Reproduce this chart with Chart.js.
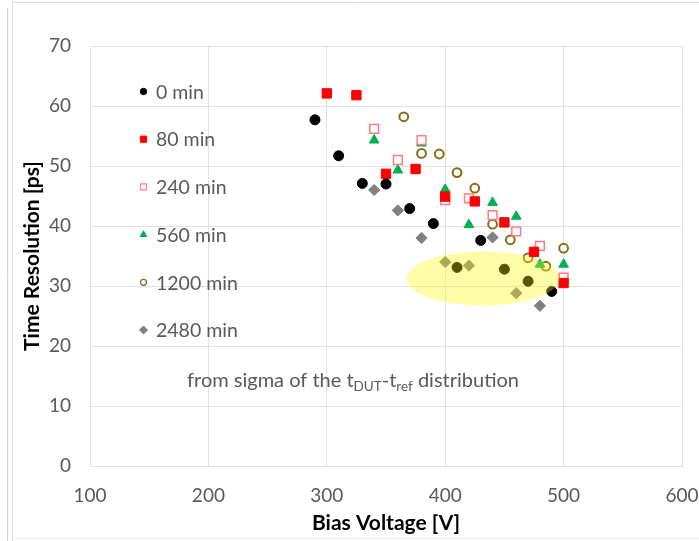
<!DOCTYPE html>
<html>
<head>
<meta charset="utf-8">
<script src="https://cdn.jsdelivr.net/npm/chart.js@4/dist/chart.umd.min.js"></script>
<style>
  html, body { margin: 0; padding: 0; background: #ffffff; }
  #wrap { width: 699px; height: 541px; position: relative; }
</style>
</head>
<body>
<div id="wrap"><canvas id="c" width="699" height="541"></canvas></div>
<script>
// Bias voltage [V] and time resolution [ps] for each irradiation/annealing time
const v0    = [290, 310, 330, 350, 370, 390, 410, 430, 450, 470, 490];
const t0    = [57.7, 51.7, 47.1, 47.0, 42.9, 40.4, 33.1, 37.6, 32.8, 30.8, 29.1];

const v80   = [300, 325, 350, 375, 400, 425, 450, 475, 500];
const t80   = [62.1, 61.8, 48.7, 49.5, 44.9, 44.1, 40.6, 35.7, 30.5];

const v240  = [340, 360, 380, 400, 420, 440, 460, 480, 500];
const t240  = [56.2, 51.0, 54.3, 44.3, 44.6, 41.8, 39.1, 36.7, 31.4];

const v560  = [340, 360, 380, 400, 420, 440, 460, 480, 500];
const t560  = [54.3, 49.3, 53.8, 46.1, 40.2, 43.9, 41.6, 33.6, 33.6];

const v1200 = [365, 380, 395, 410, 425, 440, 455, 470, 485, 500];
const t1200 = [58.2, 52.1, 52.0, 48.9, 46.3, 40.3, 37.7, 34.7, 33.3, 36.3];

const v2480 = [340, 360, 380, 400, 420, 440, 460, 480];
const t2480 = [46.0, 42.6, 38.0, 34.0, 33.4, 38.1, 28.8, 26.7];

const seriesNames = ['0 min', '80 min', '240 min', '560 min', '1200 min', '2480 min'];
const xTicks = [100, 200, 300, 400, 500, 600];
const yTicks = [0, 10, 20, 30, 40, 50, 60, 70];

// Highlighted region (centre and half-axes in data units)
const highlightCentre = { v: 432, t: 31.25 };
const highlightHalf   = { v: 64.5, t: 4.5 };

const FONT = 'Lato, "Open Sans", "DejaVu Sans", sans-serif';
const GRID = '#e2e2e2';
const LABEL = '#595959';

function pts(xs, ys) { return xs.map((x, i) => ({ x: x, y: ys[i] })); }

const styles = [
  { pointStyle: 'circle',   radius: 5,   bg: '#000000', border: '#000000', bw: 1,   lr: 3.2 },
  { pointStyle: 'rect',     radius: 6.6, bg: '#ff0000', border: '#ff0000', bw: 1,   lr: 4.4 },
  { pointStyle: 'rect',     radius: 6.2, bg: '#ffffff', border: '#ff7c80', bw: 1.5, lr: 4.2 },
  { pointStyle: 'triangle', radius: 5.6, bg: '#00b050', border: '#00b050', bw: 1,   lr: 3.8 },
  { pointStyle: 'circle',   radius: 4.4, bg: '#ffffff', border: '#8b6914', bw: 2,   lr: 3.0 },
  { pointStyle: 'rectRot',  radius: 5.6, bg: '#808080', border: '#808080', bw: 1,   lr: 4.0 }
];
const seriesData = [pts(v0, t0), pts(v80, t80), pts(v240, t240), pts(v560, t560), pts(v1200, t1200), pts(v2480, t2480)];

const datasets = seriesNames.map((name, i) => ({
  label: name,
  data: seriesData[i],
  pointStyle: styles[i].pointStyle,
  pointRadius: styles[i].radius,
  pointHoverRadius: styles[i].radius,
  backgroundColor: styles[i].bg,
  borderColor: styles[i].border,
  borderWidth: styles[i].bw,
  showLine: false
}));

// Outer panel frame lines
const framePlugin = {
  id: 'frame',
  beforeDraw(chart) {
    const ctx = chart.ctx;
    ctx.save();
    ctx.fillStyle = '#ffffff';
    ctx.fillRect(0, 0, chart.width, chart.height);
    ctx.lineWidth = 1;
    ctx.strokeStyle = '#d4d4d4';
    ctx.beginPath();
    ctx.moveTo(7.5, 8); ctx.lineTo(7.5, chart.height);
    ctx.stroke();
    ctx.strokeStyle = '#dcdcdc';
    ctx.beginPath();
    ctx.moveTo(12.5, chart.height); ctx.lineTo(12.5, 2.5); ctx.lineTo(chart.width, 2.5);
    ctx.stroke();
    ctx.strokeStyle = '#ececec';
    ctx.beginPath();
    ctx.moveTo(12.5, 538.5); ctx.lineTo(chart.width, 538.5);
    ctx.stroke();
    ctx.restore();
  }
};

// Semi-transparent yellow ellipse over the low-resolution cluster
const highlightPlugin = {
  id: 'highlight',
  afterDatasetsDraw(chart) {
    const xs = chart.scales.x, ys = chart.scales.y, ctx = chart.ctx;
    const cx = xs.getPixelForValue(highlightCentre.v);
    const cy = ys.getPixelForValue(highlightCentre.t);
    const rx = xs.getPixelForValue(highlightCentre.v + highlightHalf.v) - cx;
    const ry = cy - ys.getPixelForValue(highlightCentre.t + highlightHalf.t);
    ctx.save();
    ctx.fillStyle = 'rgba(252, 248, 0, 0.34)';
    ctx.beginPath();
    ctx.ellipse(cx, cy, rx, ry, 0, 0, Math.PI * 2);
    ctx.fill();
    ctx.restore();
  }
};

function drawMarker(ctx, style, x, y, r, s) {
  ctx.save();
  ctx.fillStyle = s.bg;
  ctx.strokeStyle = s.border;
  ctx.lineWidth = s.bw > 1 ? 1.2 : 1;
  ctx.beginPath();
  if (style === 'circle') {
    ctx.arc(x, y, r, 0, Math.PI * 2);
  } else if (style === 'rect') {
    const h = r * Math.SQRT1_2;
    ctx.rect(x - h, y - h, 2 * h, 2 * h);
  } else if (style === 'triangle') {
    for (let k = 0; k < 3; k++) {
      const a = k * 2 * Math.PI / 3;
      const px = x + Math.sin(a) * r, py = y - Math.cos(a) * r;
      if (k === 0) ctx.moveTo(px, py); else ctx.lineTo(px, py);
    }
    ctx.closePath();
  } else if (style === 'rectRot') {
    ctx.moveTo(x, y - r); ctx.lineTo(x + r, y); ctx.lineTo(x, y + r); ctx.lineTo(x - r, y);
    ctx.closePath();
  }
  ctx.fill();
  ctx.stroke();
  ctx.restore();
}

// Vertical legend inside the plot area, plus the method note
const notesPlugin = {
  id: 'notes',
  afterDraw(chart) {
    const ctx = chart.ctx, area = chart.chartArea;
    const mx = area.left + 53.5, tx = area.left + 66;
    ctx.save();
    ctx.font = '19.5px ' + FONT;
    ctx.fillStyle = LABEL;
    ctx.textBaseline = 'middle';
    ctx.textAlign = 'left';
    chart.data.datasets.forEach((ds, i) => {
      const y = area.top + 45.5 + i * 47.7;
      drawMarker(ctx, styles[i].pointStyle, mx, y, styles[i].lr, styles[i]);
      ctx.fillStyle = LABEL;
      ctx.fillText(ds.label, tx, y + 1);
    });

    // "from sigma of the t_DUT - t_ref distribution"
    let x = area.left + 97;
    const base = area.top + 341;
    ctx.textBaseline = 'alphabetic';
    const big = '20px ' + FONT, small = '13.5px ' + FONT;
    const parts = [
      ['from sigma of the t', big, 0],
      ['DUT', small, 4],
      ['-t', big, 0],
      ['ref', small, 4],
      [' distribution', big, 0]
    ];
    parts.forEach(p => {
      ctx.font = p[1];
      ctx.fillText(p[0], x, base + p[2]);
      x += ctx.measureText(p[0]).width;
    });
    ctx.restore();
  }
};

new Chart(document.getElementById('c'), {
  type: 'scatter',
  data: { datasets: datasets },
  options: {
    responsive: false,
    animation: false,
    devicePixelRatio: 1,
    layout: { padding: { top: 46, right: 0, bottom: 0, left: 0 } },
    plugins: { legend: { display: false }, tooltip: { enabled: false } },
    scales: {
      x: {
        type: 'linear', min: xTicks[0], max: xTicks[xTicks.length - 1],
        afterBuildTicks(s) { s.ticks = xTicks.map(v => ({ value: v })); },
        afterFit(s) { s.height = 75; s.paddingRight = 17; },
        ticks: { color: LABEL, font: { family: FONT, size: 19 }, padding: 18, maxRotation: 0 },
        grid: { color: GRID, drawTicks: false },
        border: { color: GRID },
        title: { display: true, text: 'Bias Voltage [V]', color: '#000000',
                 font: { family: FONT, size: 21, weight: 'bold' }, padding: { top: 0, bottom: 5 } }
      },
      y: {
        min: yTicks[0], max: yTicks[yTicks.length - 1],
        afterBuildTicks(s) { s.ticks = yTicks.map(v => ({ value: v })); },
        afterFit(s) { s.width = 90; },
        ticks: { color: LABEL, font: { family: FONT, size: 19 }, padding: 19 },
        grid: { color: GRID, drawTicks: false },
        border: { color: GRID },
        title: { display: true, text: 'Time Resolution [ps]', color: '#000000',
                 font: { family: FONT, size: 21, weight: 'bold' }, padding: { top: 20, bottom: 0 } }
      }
    }
  },
  plugins: [framePlugin, highlightPlugin, notesPlugin]
});
</script>
</body>
</html>
